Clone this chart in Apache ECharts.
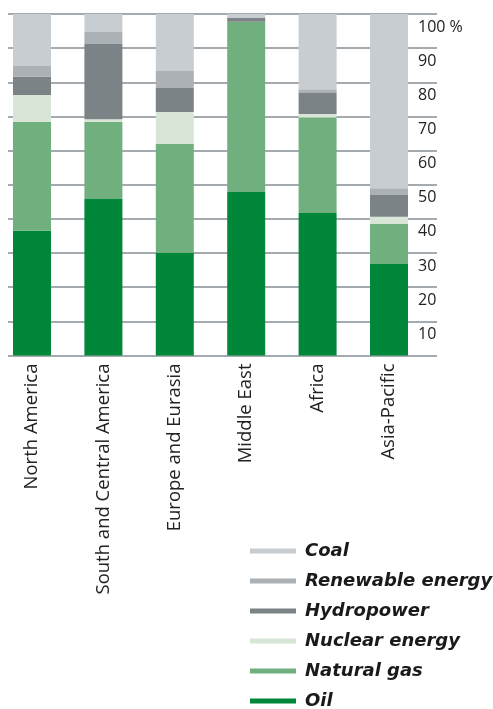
<!DOCTYPE html>
<html lang="en">
<head>
    <meta charset="UTF-8">
    <title>Energy mix by region</title>
    <script src="https://cdn.jsdelivr.net/npm/echarts@6/dist/echarts.min.js"></script>
    <style>
        html, body { margin: 0; padding: 0; background: #fff; }
    </style>
</head>
<body>
<div id="main" style="width: 493px;height:709px;"></div>
<script type="text/javascript">
    // regions and shares (%)
    var regions = ['North America', 'South and Central America', 'Europe and Eurasia', 'Middle East', 'Africa', 'Asia-Pacific'];
    var oil       = [36.5, 45.8, 30.0, 47.9, 41.7, 26.8];
    var naturalGas = [31.9, 22.6, 31.9, 49.8, 28.0, 11.7];
    var nuclear   = [7.9, 0.8, 9.4, 0, 1.0, 2.1];
    var hydro     = [5.3, 22.0, 7.0, 1.1, 6.2, 6.4];
    var renewable = [3.2, 3.5, 5.0, 0, 1.1, 2.0];
    var coal      = [15.2, 5.3, 16.7, 1.2, 22.0, 51.0];
    var yTicks = [0, 10, 20, 30, 40, 50, 60, 70, 80, 90, 100];

    var myChart = echarts.init(document.getElementById('main'));

    function bar(name, data, color) {
        return {
            name: name,
            type: 'bar',
            stack: 'all',
            xAxisIndex: 0,
            yAxisIndex: 0,
            barWidth: 38,
            data: data,
            itemStyle: {color: color},
            z: 3
        };
    }

    var option = {
        animation: false,
        grid: [
            // bars: first and last bar centres sit on the grid edges
            {left: 32, right: 104, top: 14, bottom: 353.5},
            // gridlines and right labels
            {left: 8, right: 56, top: 14, bottom: 353.5}
        ],
        legend: {
            orient: 'vertical',
            left: 245,
            top: 536,
            height: 200,
            icon: 'rect',
            itemWidth: 46,
            itemHeight: 5,
            itemGap: 10,
            data: ['Coal', 'Renewable energy', 'Hydropower', 'Nuclear energy', 'Natural gas', 'Oil'],
            textStyle: {
                fontFamily: 'DejaVu Sans',
                fontStyle: 'italic',
                fontWeight: 'bold',
                fontSize: 18,
                lineHeight: 20,
                color: '#1a1a1a',
                padding: [0, 0, 0, 4]
            }
        },
        xAxis: [
            {
                type: 'category',
                gridIndex: 0,
                data: regions,
                boundaryGap: false,
                axisLine: {show: false},
                axisTick: {show: false},
                axisLabel: {
                    interval: 0,
                    rotate: 90,
                    margin: 8,
                    fontFamily: 'Open Sans',
                    fontSize: 18.5,
                    color: '#222'
                }
            },
            {
                type: 'category',
                gridIndex: 1,
                data: regions,
                show: false
            }
        ],
        yAxis: [
            {
                type: 'value',
                gridIndex: 0,
                min: 0,
                max: 100,
                interval: 10,
                show: false
            },
            {
                type: 'value',
                gridIndex: 1,
                position: 'right',
                min: yTicks[0],
                max: yTicks[yTicks.length - 1],
                interval: 10,
                axisLine: {show: false},
                axisTick: {show: false},
                splitLine: {lineStyle: {color: '#a3aab0', width: 2}},
                axisLabel: {
                    inside: true,
                    align: 'left',
                    verticalAlign: 'top',
                    margin: 19,
                    padding: [5, 0, 0, 0],
                    fontFamily: 'Open Sans',
                    fontSize: 16,
                    color: '#222',
                    formatter: function (v) {
                        if (v === 0) return '';
                        return v === 100 ? v + ' %' : '' + v;
                    }
                }
            }
        ],
        series: [
            bar('Oil', oil, '#00873a'),
            bar('Natural gas', naturalGas, '#70b07f'),
            bar('Nuclear energy', nuclear, '#d8e6d8'),
            bar('Hydropower', hydro, '#7c8386'),
            bar('Renewable energy', renewable, '#acb1b5'),
            bar('Coal', coal, '#c8cdd1')
        ]
    };

    myChart.setOption(option);
</script>
</body>
</html>
